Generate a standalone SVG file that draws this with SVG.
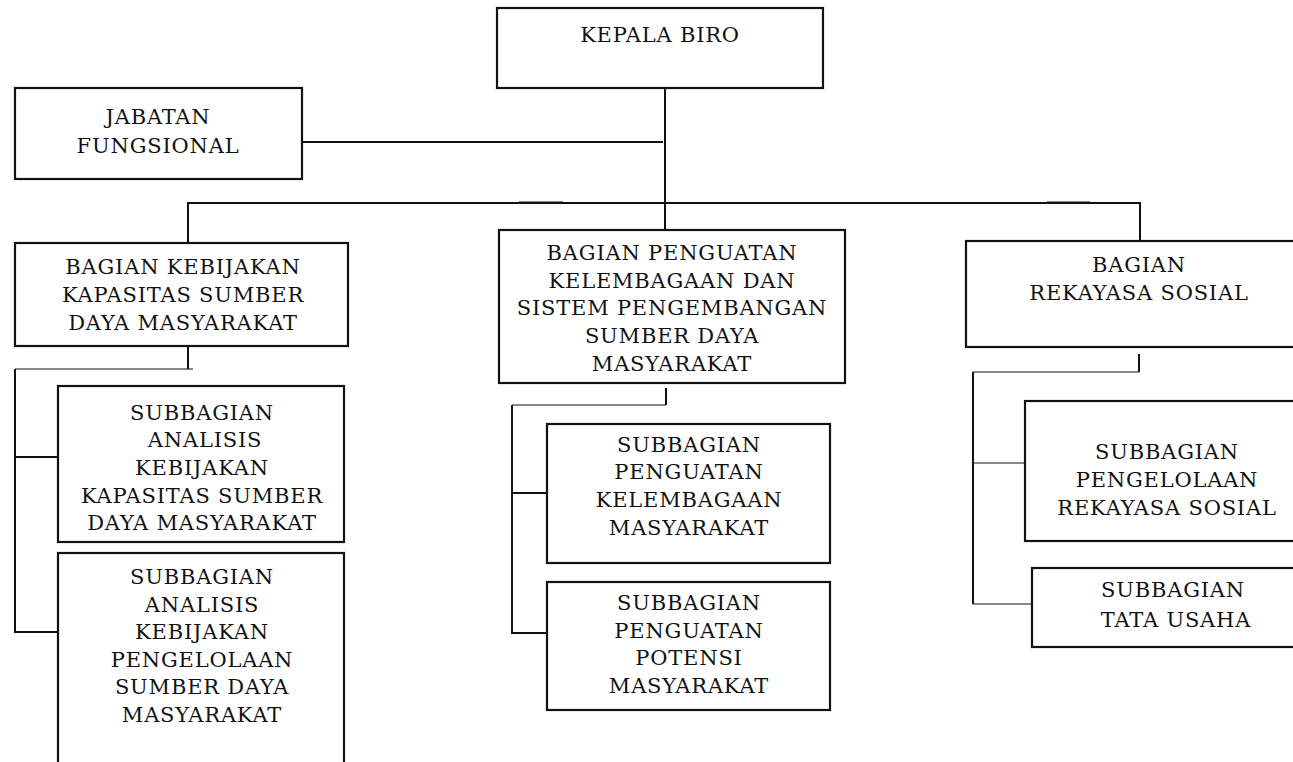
<svg xmlns="http://www.w3.org/2000/svg" width="1293" height="762" viewBox="0 0 1293 762">
<style>
.box{fill:#fff;stroke:#111;stroke-width:2.2}
.t{font-family:"DejaVu Serif","Liberation Serif",serif;font-size:21px;letter-spacing:0.8px;fill:#111;text-anchor:middle}
.c{fill:none;stroke:#111;stroke-width:2}
.c1{fill:none;stroke:#111;stroke-width:1.2}
</style>
<rect width="1293" height="762" fill="#fff"/>
<g id="connectors">
<path class="c" d="M665 88V230"/>
<path class="c" d="M300 142H663"/>
<path class="c" d="M188 243V203H1140V241"/>
<path class="c1" d="M519 202H563M1047 202H1090"/>
<path class="c" d="M188 346V369"/>
<path class="c1" d="M15 369H193"/>
<path class="c" d="M15 369V632H58"/>
<path class="c" d="M15 457H63"/>
<path class="c" d="M666 388V405"/>
<path class="c1" d="M512 405H666"/>
<path class="c" d="M512 405V633H547"/>
<path class="c" d="M512 493H547"/>
<path class="c" d="M1139 354V372"/>
<path class="c1" d="M973 372H1139"/>
<path class="c" d="M973 372V604"/>
<path class="c1" d="M973 463H1026"/>
<path class="c1" d="M973 604H1032"/>
</g>
<g id="kepala-biro">
<rect class="box" x="497" y="8" width="326" height="80"/>
<text class="t" x="660" y="42">KEPALA BIRO</text>
</g>
<g id="jabatan-fungsional">
<rect class="box" x="15" y="88" width="287" height="91"/>
<text class="t" x="158" y="124">JABATAN</text>
<text class="t" x="158" y="153">FUNGSIONAL</text>
</g>
<g id="bagian-kebijakan">
<rect class="box" x="15" y="243" width="333" height="103"/>
<text class="t" x="183" y="274">BAGIAN KEBIJAKAN</text>
<text class="t" x="183" y="302">KAPASITAS SUMBER</text>
<text class="t" x="183" y="330">DAYA MASYARAKAT</text>
</g>
<g id="bagian-penguatan">
<rect class="box" x="499" y="230" width="346" height="153"/>
<text class="t" x="672" y="260">BAGIAN PENGUATAN</text>
<text class="t" x="672" y="288">KELEMBAGAAN DAN</text>
<text class="t" x="672" y="315">SISTEM PENGEMBANGAN</text>
<text class="t" x="672" y="343">SUMBER DAYA</text>
<text class="t" x="672" y="371">MASYARAKAT</text>
</g>
<g id="bagian-rekayasa">
<rect class="box" x="966" y="241" width="340" height="106"/>
<text class="t" x="1139" y="272">BAGIAN</text>
<text class="t" x="1139" y="300">REKAYASA SOSIAL</text>
</g>
<g id="sub-analisis-kapasitas">
<rect class="box" x="58" y="386" width="286" height="156"/>
<text class="t" x="202" y="420">SUBBAGIAN</text>
<text class="t" x="205" y="447">ANALISIS</text>
<text class="t" x="202" y="475">KEBIJAKAN</text>
<text class="t" x="202" y="503">KAPASITAS SUMBER</text>
<text class="t" x="202" y="530">DAYA MASYARAKAT</text>
</g>
<g id="sub-analisis-pengelolaan">
<rect class="box" x="58" y="553" width="286" height="220"/>
<text class="t" x="202" y="584">SUBBAGIAN</text>
<text class="t" x="202" y="612">ANALISIS</text>
<text class="t" x="202" y="639">KEBIJAKAN</text>
<text class="t" x="202" y="667">PENGELOLAAN</text>
<text class="t" x="202" y="694">SUMBER DAYA</text>
<text class="t" x="202" y="722">MASYARAKAT</text>
</g>
<g id="sub-penguatan-kelembagaan">
<rect class="box" x="547" y="424" width="283" height="139"/>
<text class="t" x="689" y="452">SUBBAGIAN</text>
<text class="t" x="689" y="479">PENGUATAN</text>
<text class="t" x="689" y="507">KELEMBAGAAN</text>
<text class="t" x="689" y="535">MASYARAKAT</text>
</g>
<g id="sub-penguatan-potensi">
<rect class="box" x="547" y="582" width="283" height="128"/>
<text class="t" x="689" y="610">SUBBAGIAN</text>
<text class="t" x="689" y="638">PENGUATAN</text>
<text class="t" x="689" y="665">POTENSI</text>
<text class="t" x="689" y="693">MASYARAKAT</text>
</g>
<g id="sub-pengelolaan-rekayasa">
<rect class="box" x="1025" y="401" width="290" height="140"/>
<text class="t" x="1167" y="459">SUBBAGIAN</text>
<text class="t" x="1167" y="487">PENGELOLAAN</text>
<text class="t" x="1167" y="515">REKAYASA SOSIAL</text>
</g>
<g id="sub-tata-usaha">
<rect class="box" x="1032" y="568" width="283" height="79"/>
<text class="t" x="1173" y="597">SUBBAGIAN</text>
<text class="t" x="1176" y="627">TATA USAHA</text>
</g>
</svg>
